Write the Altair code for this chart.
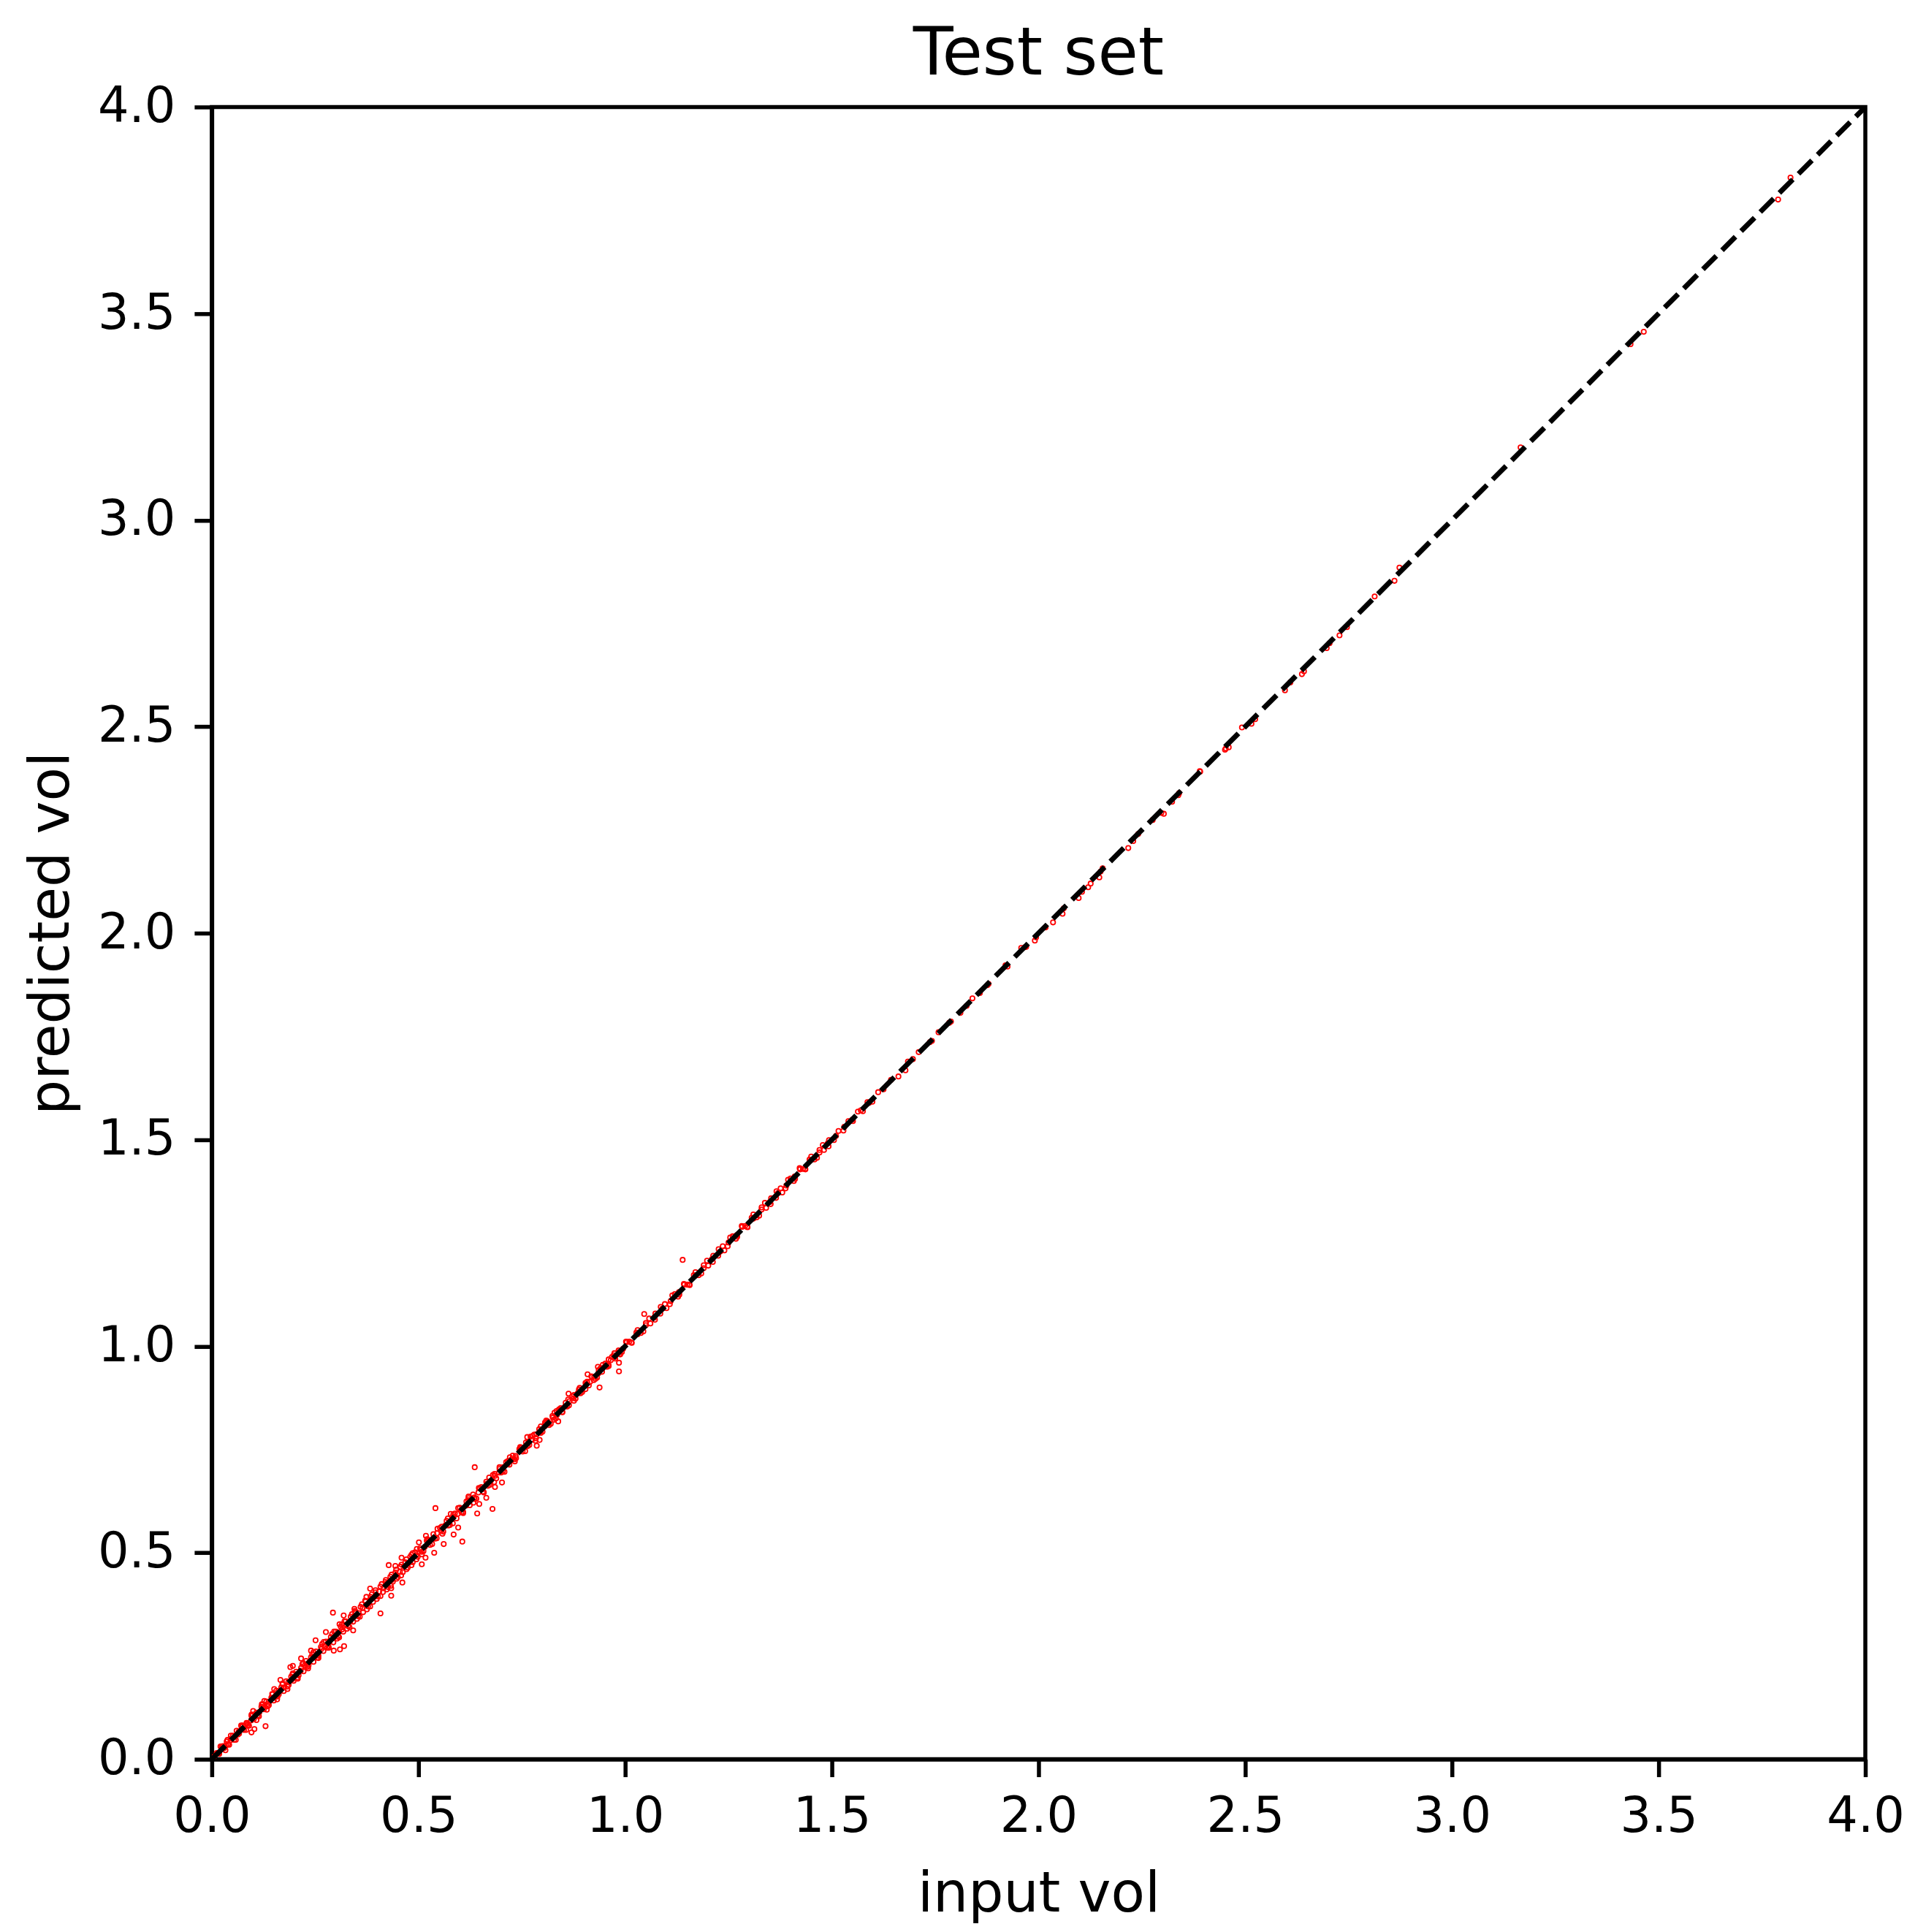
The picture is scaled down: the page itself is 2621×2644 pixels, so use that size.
import altair as alt
import pandas as pd

FONT = "DejaVu Sans"

# ---- data ----
# dense band, 0.0 - 0.5
input_band_a = [0.012, 0.018, 0.024, 0.030, 0.036, 0.042, 0.048, 0.054, 0.060, 0.066, 0.072, 0.078,
                0.084, 0.090, 0.096, 0.102, 0.108, 0.114, 0.120, 0.126, 0.132, 0.138, 0.144, 0.150,
                0.156, 0.162, 0.168, 0.174, 0.180, 0.186, 0.192, 0.198, 0.204, 0.210, 0.216, 0.222,
                0.228, 0.234, 0.240, 0.246, 0.252, 0.258, 0.264, 0.270, 0.276, 0.282, 0.288, 0.294,
                0.300, 0.306, 0.312, 0.318, 0.324, 0.330, 0.336, 0.342, 0.348, 0.354, 0.360, 0.366,
                0.372, 0.378, 0.384, 0.390, 0.396, 0.402, 0.408, 0.414, 0.420, 0.426, 0.432, 0.438,
                0.444, 0.450, 0.456, 0.462, 0.468, 0.474, 0.480, 0.486, 0.492, 0.498]
pred_band_a = [0.015, 0.013, 0.031, 0.027, 0.043, 0.035, 0.050, 0.047, 0.069, 0.062, 0.079, 0.071,
               0.088, 0.081, 0.105, 0.098, 0.113, 0.104, 0.127, 0.121, 0.140, 0.131, 0.149, 0.142,
               0.166, 0.157, 0.174, 0.165, 0.189, 0.180, 0.200, 0.190, 0.212, 0.203, 0.221, 0.213,
               0.238, 0.227, 0.247, 0.236, 0.261, 0.251, 0.272, 0.262, 0.285, 0.274, 0.296, 0.283,
               0.309, 0.298, 0.321, 0.309, 0.334, 0.322, 0.345, 0.333, 0.357, 0.346, 0.369, 0.356,
               0.382, 0.370, 0.393, 0.381, 0.404, 0.394, 0.418, 0.405, 0.429, 0.417, 0.442, 0.430,
               0.452, 0.441, 0.466, 0.453, 0.477, 0.464, 0.490, 0.477, 0.501, 0.490]

input_band_b = [0.015, 0.027, 0.039, 0.051, 0.063, 0.075, 0.087, 0.099, 0.111, 0.123, 0.135, 0.147,
                0.159, 0.171, 0.183, 0.195, 0.207, 0.219, 0.231, 0.243, 0.255, 0.267, 0.279, 0.291,
                0.303, 0.315, 0.327, 0.339, 0.351, 0.363, 0.375, 0.387, 0.399, 0.411, 0.423, 0.435,
                0.447, 0.459, 0.471, 0.483, 0.495]
pred_band_b = [0.014, 0.032, 0.036, 0.057, 0.060, 0.082, 0.083, 0.108, 0.106, 0.133, 0.128, 0.157,
               0.152, 0.181, 0.176, 0.205, 0.198, 0.230, 0.224, 0.254, 0.246, 0.279, 0.270, 0.303,
               0.292, 0.327, 0.316, 0.351, 0.340, 0.375, 0.363, 0.399, 0.388, 0.424, 0.411, 0.447,
               0.437, 0.471, 0.460, 0.495, 0.484]

# points almost exactly on the line, 0.0 - 1.0
input_on = [0.005, 0.015, 0.025, 0.035, 0.045, 0.055, 0.065, 0.075, 0.085, 0.095,
            0.105, 0.115, 0.125, 0.135, 0.145, 0.155, 0.165, 0.175, 0.185, 0.195,
            0.205, 0.215, 0.225, 0.235, 0.245, 0.255, 0.265, 0.275, 0.285, 0.295,
            0.305, 0.315, 0.325, 0.335, 0.345, 0.355, 0.365, 0.375, 0.385, 0.395,
            0.405, 0.415, 0.425, 0.435, 0.445, 0.455, 0.465, 0.475, 0.485, 0.495,
            0.505, 0.515, 0.525, 0.535, 0.545, 0.555, 0.565, 0.575, 0.585, 0.595,
            0.605, 0.615, 0.625, 0.635, 0.645, 0.655, 0.665, 0.675, 0.685, 0.695,
            0.705, 0.715, 0.725, 0.735, 0.745, 0.755, 0.765, 0.775, 0.785, 0.795,
            0.805, 0.815, 0.825, 0.835, 0.845, 0.855, 0.865, 0.875, 0.885, 0.895,
            0.905, 0.915, 0.925, 0.935, 0.945, 0.955, 0.965, 0.975, 0.985, 0.995]
pred_on = [0.006, 0.014, 0.027, 0.034, 0.046, 0.054, 0.067, 0.074, 0.086, 0.094,
           0.107, 0.114, 0.126, 0.134, 0.147, 0.154, 0.166, 0.174, 0.187, 0.194,
           0.206, 0.214, 0.227, 0.234, 0.246, 0.254, 0.267, 0.274, 0.286, 0.294,
           0.307, 0.314, 0.326, 0.334, 0.347, 0.354, 0.366, 0.374, 0.387, 0.394,
           0.406, 0.414, 0.427, 0.434, 0.446, 0.454, 0.467, 0.474, 0.486, 0.494,
           0.507, 0.514, 0.526, 0.534, 0.547, 0.554, 0.566, 0.574, 0.587, 0.594,
           0.606, 0.614, 0.627, 0.634, 0.646, 0.654, 0.667, 0.674, 0.686, 0.694,
           0.707, 0.714, 0.726, 0.734, 0.747, 0.754, 0.766, 0.774, 0.787, 0.794,
           0.806, 0.814, 0.827, 0.834, 0.846, 0.854, 0.867, 0.874, 0.886, 0.894,
           0.907, 0.914, 0.926, 0.934, 0.947, 0.954, 0.966, 0.974, 0.986, 0.994]

# wider spread around the line, 0.0 - 0.8
input_wide = [0.021, 0.033, 0.046, 0.058, 0.071, 0.083, 0.096, 0.108, 0.121, 0.133,
              0.146, 0.158, 0.171, 0.183, 0.196, 0.208, 0.221, 0.233, 0.246, 0.258,
              0.271, 0.283, 0.296, 0.308, 0.321, 0.333, 0.346, 0.358, 0.371, 0.383,
              0.396, 0.408, 0.421, 0.433, 0.446, 0.458, 0.471, 0.483, 0.496, 0.508,
              0.521, 0.533, 0.546, 0.558, 0.571, 0.583, 0.596, 0.608, 0.621, 0.633,
              0.646, 0.658, 0.671, 0.683, 0.696, 0.708, 0.721, 0.733, 0.746, 0.758,
              0.771, 0.783, 0.796]
pred_wide = [0.031, 0.022, 0.057, 0.047, 0.082, 0.071, 0.108, 0.095, 0.133, 0.120,
             0.158, 0.145, 0.183, 0.170, 0.208, 0.195, 0.233, 0.220, 0.259, 0.245,
             0.284, 0.270, 0.309, 0.295, 0.334, 0.320, 0.359, 0.345, 0.384, 0.370,
             0.409, 0.395, 0.434, 0.420, 0.459, 0.445, 0.484, 0.470, 0.509, 0.496,
             0.533, 0.521, 0.558, 0.546, 0.583, 0.571, 0.608, 0.596, 0.632, 0.621,
             0.657, 0.646, 0.682, 0.671, 0.707, 0.696, 0.731, 0.721, 0.756, 0.746,
             0.781, 0.771, 0.806]

# wider spread around the line, 0.8 - 1.5
input_wide2 = [0.806, 0.820, 0.834, 0.848, 0.862, 0.876, 0.890, 0.904, 0.918, 0.932,
               0.946, 0.960, 0.974, 0.988, 1.002, 1.016, 1.030, 1.044, 1.058, 1.072,
               1.086, 1.100, 1.114, 1.128, 1.142, 1.156, 1.170, 1.184, 1.198, 1.212,
               1.226, 1.240, 1.254, 1.268, 1.282, 1.296, 1.310, 1.324, 1.338, 1.352,
               1.366, 1.380, 1.394, 1.408, 1.422, 1.436, 1.450, 1.464, 1.478, 1.492]
pred_wide2 = [0.815, 0.812, 0.843, 0.840, 0.871, 0.868, 0.899, 0.896, 0.927, 0.924,
              0.955, 0.952, 0.983, 0.980, 1.011, 1.008, 1.039, 1.036, 1.067, 1.064,
              1.095, 1.092, 1.123, 1.120, 1.151, 1.148, 1.179, 1.176, 1.207, 1.204,
              1.235, 1.232, 1.263, 1.260, 1.291, 1.288, 1.319, 1.316, 1.347, 1.344,
              1.375, 1.372, 1.403, 1.400, 1.431, 1.428, 1.459, 1.456, 1.487, 1.484]

# band, 0.5 - 1.0
input_mid = [0.504, 0.512, 0.520, 0.528, 0.536, 0.544, 0.552, 0.560, 0.568, 0.576, 0.584, 0.592,
             0.600, 0.608, 0.616, 0.624, 0.632, 0.640, 0.648, 0.656, 0.664, 0.672, 0.680, 0.688,
             0.696, 0.704, 0.712, 0.720, 0.728, 0.736, 0.744, 0.752, 0.760, 0.768, 0.776, 0.784,
             0.792, 0.800, 0.808, 0.816, 0.824, 0.832, 0.840, 0.848, 0.856, 0.864, 0.872, 0.880,
             0.888, 0.896, 0.904, 0.912, 0.920, 0.928, 0.936, 0.944, 0.952, 0.960, 0.968, 0.976,
             0.984, 0.992]
pred_mid = [0.511, 0.504, 0.529, 0.519, 0.545, 0.535, 0.560, 0.551, 0.577, 0.567, 0.592, 0.583,
            0.609, 0.599, 0.624, 0.615, 0.641, 0.631, 0.656, 0.648, 0.672, 0.664, 0.688, 0.680,
            0.703, 0.697, 0.719, 0.713, 0.735, 0.729, 0.751, 0.745, 0.767, 0.761, 0.783, 0.777,
            0.799, 0.793, 0.815, 0.809, 0.831, 0.825, 0.847, 0.841, 0.863, 0.857, 0.879, 0.873,
            0.895, 0.889, 0.911, 0.905, 0.926, 0.921, 0.942, 0.938, 0.958, 0.954, 0.974, 0.970,
            0.990, 0.986]

input_mid_b = [0.508, 0.524, 0.540, 0.556, 0.572, 0.588, 0.604, 0.620, 0.636, 0.652, 0.668, 0.684,
               0.700, 0.716, 0.732, 0.748, 0.764, 0.780, 0.796, 0.812, 0.828, 0.844, 0.860, 0.876,
               0.892, 0.908, 0.924, 0.940, 0.956, 0.972, 0.988]
pred_mid_b = [0.502, 0.531, 0.534, 0.563, 0.566, 0.595, 0.598, 0.627, 0.630, 0.659, 0.662, 0.691,
              0.694, 0.722, 0.726, 0.754, 0.758, 0.786, 0.790, 0.818, 0.822, 0.850, 0.854, 0.882,
              0.886, 0.914, 0.918, 0.946, 0.950, 0.978, 0.982]

# band, 1.0 - 1.6
input_upper = [1.004, 1.015, 1.027, 1.038, 1.050, 1.061, 1.073, 1.085, 1.096, 1.108, 1.120, 1.131,
               1.143, 1.155, 1.166, 1.178, 1.190, 1.201, 1.213, 1.225, 1.236, 1.248, 1.260, 1.271,
               1.283, 1.295, 1.306, 1.318, 1.330, 1.341, 1.353, 1.365, 1.376, 1.388, 1.400, 1.411,
               1.423, 1.435, 1.446, 1.458, 1.470, 1.481, 1.493, 1.505, 1.516, 1.528, 1.540, 1.551,
               1.563, 1.575, 1.586, 1.598]
pred_upper = [1.010, 1.009, 1.033, 1.032, 1.056, 1.055, 1.079, 1.079, 1.102, 1.102, 1.126, 1.125,
              1.149, 1.149, 1.172, 1.172, 1.196, 1.195, 1.219, 1.219, 1.242, 1.242, 1.266, 1.265,
              1.289, 1.289, 1.311, 1.312, 1.336, 1.335, 1.358, 1.359, 1.382, 1.382, 1.406, 1.405,
              1.428, 1.429, 1.452, 1.452, 1.475, 1.475, 1.499, 1.499, 1.521, 1.522, 1.545, 1.545,
              1.568, 1.569, 1.591, 1.592]

input_upper_on = [1.010, 1.030, 1.050, 1.070, 1.090, 1.110, 1.130, 1.150, 1.170, 1.190,
                  1.210, 1.230, 1.250, 1.270, 1.290, 1.310, 1.330, 1.350, 1.370, 1.390,
                  1.410, 1.430, 1.450, 1.470, 1.490, 1.510, 1.530, 1.550, 1.570, 1.590]
pred_upper_on = [1.011, 1.029, 1.051, 1.069, 1.091, 1.109, 1.131, 1.149, 1.171, 1.189,
                 1.211, 1.229, 1.251, 1.269, 1.291, 1.309, 1.331, 1.349, 1.371, 1.389,
                 1.411, 1.429, 1.451, 1.469, 1.491, 1.509, 1.531, 1.549, 1.571, 1.589]

# sparser, 1.6 - 2.4
input_sparse = [1.612, 1.625, 1.643, 1.661, 1.678, 1.684, 1.696, 1.710, 1.737, 1.742, 1.758, 1.784,
                1.788, 1.811, 1.826, 1.840, 1.858, 1.876, 1.879, 1.920, 1.925, 1.958, 1.967, 1.970,
                1.991, 1.994, 2.017, 2.035, 2.058, 2.061, 2.097, 2.105, 2.120, 2.126, 2.147, 2.150,
                2.155, 2.217, 2.229, 2.241, 2.276, 2.297, 2.303, 2.323, 2.338, 2.340, 2.391, 2.390]
pred_sparse = [1.615, 1.622, 1.645, 1.653, 1.668, 1.689, 1.695, 1.712, 1.736, 1.739, 1.760, 1.783,
               1.786, 1.807, 1.824, 1.842, 1.855, 1.874, 1.877, 1.922, 1.919, 1.964, 1.966, 1.967,
               1.982, 1.990, 2.014, 2.026, 2.047, 2.060, 2.085, 2.100, 2.111, 2.120, 2.135, 2.149,
               2.157, 2.206, 2.223, 2.240, 2.274, 2.291, 2.289, 2.318, 2.334, 2.339, 2.391, 2.392]

# high values
input_high = [2.451, 2.453, 2.460, 2.492, 2.515, 2.524, 2.596, 2.609, 2.637, 2.642, 2.697, 2.704,
              2.728, 2.746, 2.813, 2.861, 2.873, 3.166, 3.432, 3.464, 3.789, 3.819]
pred_high = [2.444, 2.447, 2.450, 2.498, 2.507, 2.518, 2.588, 2.607, 2.627, 2.634, 2.690, 2.702,
             2.721, 2.741, 2.815, 2.853, 2.885, 3.176, 3.426, 3.456, 3.776, 3.829]

# scattered points off the line
input_off = [0.636, 0.541, 0.679, 0.702, 0.664, 0.642, 0.606, 0.585, 0.596, 0.561, 0.538, 0.508,
             0.517, 0.428, 0.459, 0.501, 0.518, 0.461, 0.434, 0.408, 0.383, 0.293, 0.319, 0.276,
             0.320, 0.310, 0.295, 0.342, 0.251, 0.216, 0.190, 0.166, 0.130, 0.096, 0.103, 0.838,
             0.786, 0.793, 0.763, 0.809, 0.863, 0.621, 0.578, 0.486, 0.444, 0.374, 0.345, 0.309,
             0.240, 0.196, 0.151, 0.127, 0.100, 0.038, 0.434, 0.985, 0.985, 0.938, 0.909, 0.934,
             0.647, 0.685, 0.829, 0.960, 1.139, 1.046]
pred_off = [0.707, 0.608, 0.606, 0.670, 0.633, 0.595, 0.527, 0.544, 0.561, 0.521, 0.500, 0.472,
            0.488, 0.470, 0.488, 0.525, 0.541, 0.428, 0.396, 0.353, 0.413, 0.355, 0.348, 0.308,
            0.274, 0.266, 0.263, 0.312, 0.288, 0.244, 0.223, 0.192, 0.080, 0.065, 0.073, 0.818,
            0.759, 0.773, 0.780, 0.820, 0.885, 0.636, 0.594, 0.499, 0.468, 0.393, 0.364, 0.327,
            0.263, 0.226, 0.170, 0.141, 0.117, 0.047, 0.414, 0.960, 0.939, 0.900, 0.932, 0.950,
            0.618, 0.659, 0.839, 0.968, 1.209, 1.078]

diag_vals = [0.0, 4.0]
tick_vals = [0.0, 0.5, 1.0, 1.5, 2.0, 2.5, 3.0, 3.5, 4.0]

groups = [
    (input_band_a, pred_band_a), (input_band_b, pred_band_b), (input_on, pred_on),
    (input_wide, pred_wide), (input_wide2, pred_wide2), (input_mid, pred_mid),
    (input_mid_b, pred_mid_b), (input_upper, pred_upper), (input_upper_on, pred_upper_on),
    (input_sparse, pred_sparse), (input_high, pred_high), (input_off, pred_off),
]
input_all, pred_all = [], []
for xs, ys in groups:
    n = min(len(xs), len(ys))
    input_all += xs[:n]
    pred_all += ys[:n]

pts = pd.DataFrame({"input_vol": input_all, "predicted_vol": pred_all})
diag = pd.DataFrame({"v": diag_vals})

scale = alt.Scale(domain=[0, 4], nice=False, zero=False)

common_axis = dict(
    values=tick_vals, format=".1f", grid=False,
    labelFont=FONT, titleFont=FONT, labelFontSize=67, titleFontSize=76,
    labelColor="black", titleColor="black", titleFontWeight="normal",
    tickSize=24, tickWidth=5.5, tickColor="black",
    domainWidth=5.5, domainColor="black",
    labelFlush=False, labelOverlap=False,
)

x_axis = alt.Axis(title="input vol", labelPadding=22, titlePadding=36, **common_axis)
y_axis = alt.Axis(title="predicted vol", labelPadding=26, titlePadding=24, **common_axis)

points = alt.Chart(pts).mark_point(
    shape="circle", filled=False, color="#ff0000", size=40, strokeWidth=1.8, opacity=1, clip=True
).encode(
    x=alt.X("input_vol:Q", scale=scale, axis=x_axis),
    y=alt.Y("predicted_vol:Q", scale=scale, axis=y_axis),
)

line = alt.Chart(diag).mark_line(
    color="black", strokeWidth=7, strokeDash=[26, 11], strokeCap="butt"
).encode(
    x=alt.X("v:Q", scale=scale),
    y=alt.Y("v:Q", scale=scale),
)

chart = alt.layer(points, line).properties(
    width=2264,
    height=2262,
    title=alt.TitleParams("Test set", font=FONT, fontSize=90, fontWeight="normal",
                          color="black", anchor="middle", offset=-9),
    autosize=alt.AutoSizeParams(type="none"),
    padding={"left": 282, "top": 138, "right": 60, "bottom": 228},
).configure(
    background="white"
).configure_view(
    stroke="black", strokeWidth=5.5
)

chart.save("out.html", embed_options={"renderer": "svg", "actions": False})
